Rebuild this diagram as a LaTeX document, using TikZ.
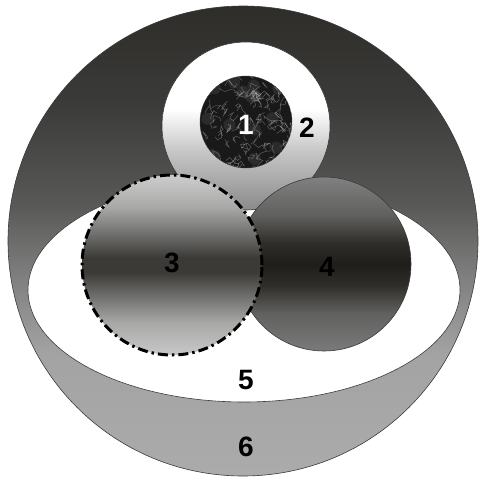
\documentclass[tikz,border=0pt]{standalone}
\usepackage{fontspec}
\setmainfont{Liberation Sans}
\usepackage{xcolor}
\usepackage{tikz}
\usetikzlibrary{calc}

\definecolor{shellTop}{HTML}{2E2D2A}
\definecolor{shellA}{HTML}{3A3A38}
\definecolor{shellB}{HTML}{585856}
\definecolor{shellC}{HTML}{808080}
\definecolor{shellD}{HTML}{A2A3A2}
\definecolor{shellBot}{HTML}{AAABAA}
\definecolor{ringMid}{HTML}{C8C8C8}
\definecolor{ringBot}{HTML}{8A8A8A}
\definecolor{lightTop}{HTML}{CDCDCD}
\definecolor{lightA}{HTML}{A8A8A7}
\definecolor{lightMid}{HTML}{6A6A68}
\definecolor{lightCore}{HTML}{3B3A37}
\definecolor{lightBot}{HTML}{C8C8C8}
\definecolor{darkTop}{HTML}{808080}
\definecolor{darkA}{HTML}{60605F}
\definecolor{darkMid}{HTML}{2E2D29}
\definecolor{darkCore}{HTML}{201E1A}
\definecolor{darkBot}{HTML}{7A7A7A}
\definecolor{edge}{HTML}{3A3A3A}

\pgfdeclareverticalshading{shellshade}{100bp}{color(0bp)=(shellBot); color(25bp)=(shellBot);
  color(38bp)=(shellD); color(46bp)=(shellC); color(54bp)=(shellB); color(65bp)=(shellA);
  color(75bp)=(shellTop); color(100bp)=(shellTop)}
\pgfdeclareverticalshading{ringshade}{100bp}{color(0bp)=(ringBot); color(25bp)=(ringBot);
  color(43bp)=(ringMid); color(55bp)=(white); color(100bp)=(white)}
\pgfdeclareverticalshading{lightshade}{100bp}{color(0bp)=(lightBot); color(25bp)=(lightBot);
  color(34bp)=(lightA); color(42bp)=(lightMid); color(48bp)=(lightCore); color(52bp)=(lightCore);
  color(58bp)=(lightMid); color(66bp)=(lightA); color(75bp)=(lightTop); color(100bp)=(lightTop)}
\pgfdeclareverticalshading{darkshade}{100bp}{color(0bp)=(darkBot); color(25bp)=(darkBot);
  color(36bp)=(darkA); color(44bp)=(darkMid); color(50bp)=(darkCore);
  color(56bp)=(darkMid); color(64bp)=(darkA); color(75bp)=(darkTop); color(100bp)=(darkTop)}

\begin{document}
\begin{tikzpicture}[
  x=1pt, y=-1pt,
  outline/.style={draw=edge, line width=0.6pt},
  dashdot/.style={draw=black, line width=3pt, dash pattern=on 10pt off 4pt on 2.5pt off 4pt},
  vein/.style={draw=white, line width=0.5pt, opacity=0.3},
  num/.style={font=\fontsize{28}{28}\selectfont\bfseries, inner sep=0pt}
]
\useasboundingbox (0,0) rectangle (479,480);

% --- centres ---
\coordinate (shell) at (243,241);
\coordinate (bowl)  at (244,290);
\coordinate (ring)  at (246,126);
\coordinate (core)  at (246,122);
\coordinate (left)  at (172,265);
\coordinate (right) at (324,264);

% --- outer body and bowl ---
\shade[shading=shellshade, outline] (shell) circle[radius=235pt];
\fill[white] (bowl) ellipse[x radius=216pt, y radius=112pt];
\draw[outline] (bowl) ellipse[x radius=216pt, y radius=112pt];

% --- ring and marbled core ---
\shade[shading=ringshade, outline] (ring) circle[radius=84pt];
\begin{scope}
  \clip (core) circle[radius=46pt];
  \fill[black!90] (core) circle[radius=46pt];
  \pgfmathsetseed{17}
  \foreach \k in {1,...,14}
    \fill[white, opacity=0.08] ($(core)+({40*rand},{40*rand})$) circle[radius=6pt];
  \foreach \k in {1,...,120}
    \draw[vein] ($(core)+({46*rand},{46*rand})$) -- ++({6*rand},{6*rand})
      -- ++({6*rand},{6*rand}) -- ++({6*rand},{6*rand}) -- ++({6*rand},{6*rand});
\end{scope}
\draw[edge, line width=0.4pt] (core) circle[radius=46pt];

% --- the two spheres ---
\shade[shading=darkshade, outline] (right) circle[radius=87pt];
\shade[shading=lightshade] (left) circle[radius=90pt];
\draw[dashdot] (left) circle[radius=90pt];

% --- labels ---
\node[num, text=black] (lab3) at (172,263) {3};
\node[num, text=black] (lab4) at (327,267) {4};
\node[num, text=white] (lab1) at (246,125) {1};
\node[num] (lab2) at (307,128) {2};
\node[num] (lab5) at (246,380) {5};
\node[num] (lab6) at (246,447) {6};

\end{tikzpicture}
\end{document}
